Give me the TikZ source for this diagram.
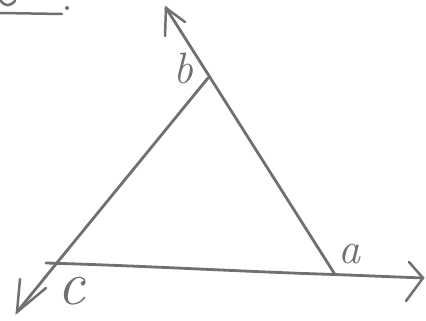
\documentclass[tikz,border=0pt]{standalone}
\definecolor{pencil}{RGB}{112,112,112}
\tikzset{
  stroke/.style={draw=pencil, line width=2.8pt, line cap=round, line join=round},
  barb/.style={draw=pencil, line width=2.5pt, line cap=round},
  lbl/.style={text=pencil, inner sep=0pt, font=\itshape\fontsize{44}{44}\selectfont},
}
\begin{document}
\begin{tikzpicture}[x=1pt,y=-1pt]
\useasboundingbox[fill=white] (0,0) rectangle (426,321);
% vertices and arrow ends
\coordinate (b) at (208,78);
\coordinate (a) at (335,274.5);
\coordinate (c) at (56,264);
\coordinate (topTip) at (166,8);
\coordinate (leftTip) at (17,312);
\coordinate (rightTip) at (423,278);
\coordinate (bottomStart) at (46,263);
\coordinate (tb1) at (165,36);
\coordinate (tb2) at (185,22);
\coordinate (lb1) at (20,279);
\coordinate (lb2) at (46,288);
\coordinate (rb1) at (409,262);
\coordinate (rb2) at (406,301);
% lines
\draw[stroke] (a) -- (topTip);
\draw[stroke] (b) -- (c) -- (leftTip);
\draw[stroke] (bottomStart) .. controls (150,266) and (250,272) .. (a) -- (rightTip);
% barbs
\draw[barb] (tb1) -- (topTip) -- (tb2);
\draw[barb] (lb1) -- (leftTip) -- (lb2);
\draw[barb] (rb1) -- (rightTip) -- (rb2);
% labels
\node[lbl] (lb) at (183,68) {b};
\node[lbl] (la) at (349,254) {a};
\node[lbl, font=\itshape\fontsize{62}{62}\selectfont] (lc) at (71,291) {c};
% fragment at top left
\coordinate (f1) at (0,13);
\coordinate (f2) at (62,14);
\draw[barb] (f1) -- (f2);
\draw[barb] (1,1) .. controls (5,7) and (11,6) .. (15,1);
\fill[pencil] (67,8) circle (2pt);
\end{tikzpicture}
\end{document}
